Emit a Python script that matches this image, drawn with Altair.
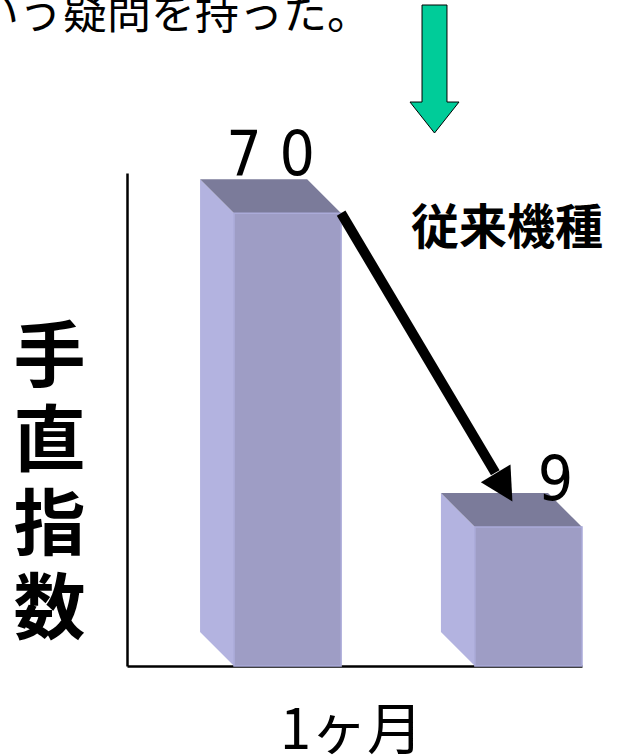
import math
import altair as alt
import pandas as pd

# ---- data ----
series = ["bar1", "bar2"]
values = [70, 9]
y_title = "手直指数"
x_title = "1ヶ月"
note_text = "従来機種"
top_text = "いう疑問を持った。"

# ---- layout constants ----
PLOT_W, PLOT_H = 455, 493
X_DOMAIN = (0.0, 4.25)
Y_DOMAIN = (-18.0, 77.8)
BAR_W = 1.0
FIRST, STEP = 1.0, 2.25
DEPTH_PX = 34
px_x = PLOT_W / (X_DOMAIN[1] - X_DOMAIN[0])
px_y = PLOT_H / (Y_DOMAIN[1] - Y_DOMAIN[0])
DX = DEPTH_PX / px_x
DY = DEPTH_PX / px_y
BASE = Y_DOMAIN[0]

FRONT = "#9E9DC5"
SIDE = "#B3B3E0"
TOP = "#7B7B9A"
EDGE = "#ABABD9"
JP = "Noto Sans CJK JP"

x0 = [FIRST + i * STEP for i in range(len(values))]

front_df = pd.DataFrame({"key": series, "value": values,
                         "xa": x0, "xb": [a + BAR_W for a in x0],
                         "base": [BASE] * len(values)})
side_rows, top_rows = [], []
for k, a, v in zip(series, x0, values):
    side_rows += [{"key": k, "x": a - DX, "top": v + DY, "bot": BASE + DY},
                  {"key": k, "x": a, "top": v, "bot": BASE}]
    top_rows += [{"key": k, "y": v + DY, "xa": a - DX, "xb": a - DX + BAR_W},
                 {"key": k, "y": v, "xa": a, "xb": a + BAR_W}]
side_df = pd.DataFrame(side_rows)
top_df = pd.DataFrame(top_rows)

label_df = pd.DataFrame({"key": series, "value": values,
                         "lx": [a - DX / 2 + BAR_W / 2 for a in x0],
                         "ly": [v + DY for v in values],
                         "label": [" ".join(str(v)) for v in values]})

# black arrow from top of first bar to top of second bar
sx, sy = x0[0] + BAR_W, values[0]
tx, ty = x0[1] + 0.35 * BAR_W, values[1] + 0.75 * DY
frac = 0.9
arrow_df = pd.DataFrame({"x": [sx, sx + frac * (tx - sx)],
                         "y": [sy, sy + frac * (ty - sy)], "o": [0, 1]})
head_df = pd.DataFrame({"x": [tx], "y": [ty]})
ang_ccw = math.degrees(math.atan2((tx - sx) * px_x, -(ty - sy) * px_y))
head_angle = (360 - ang_ccw) % 360

xs = alt.Scale(domain=list(X_DOMAIN), nice=False, zero=False)
ys = alt.Scale(domain=list(Y_DOMAIN), nice=False, zero=False)

x_axis = alt.Axis(title=x_title, domain=True, domainColor="black", domainWidth=2.5,
                  ticks=False, labels=False, grid=False,
                  titleFont=JP, titleFontSize=56, titleFontWeight="normal",
                  titleColor="black", titleX=224, titleY=82,
                  titleAlign="center", titleBaseline="alphabetic")
y_axis = alt.Axis(title=list(y_title), domain=True, domainColor="black", domainWidth=2.5,
                  ticks=False, labels=False, grid=False,
                  titleFont=JP, titleFontSize=72, titleFontWeight="bold",
                  titleColor="black", titleAngle=0, titleLineHeight=84,
                  titleX=-78, titleY=150, titleAlign="center", titleBaseline="top")

side = alt.Chart(side_df).mark_area(color=SIDE, opacity=1).encode(
    x=alt.X("x:Q", scale=xs, axis=x_axis),
    y=alt.Y("top:Q", scale=ys, axis=y_axis),
    y2="bot:Q",
    detail="key:N",
)
top = alt.Chart(top_df).mark_area(color=TOP, opacity=1, orient="horizontal").encode(
    y=alt.Y("y:Q", scale=ys, axis=y_axis),
    x=alt.X("xa:Q", scale=xs, axis=x_axis),
    x2="xb:Q",
    detail="key:N",
)
front = alt.Chart(front_df).mark_rect(color=FRONT, stroke=EDGE, strokeWidth=1.5).encode(
    x=alt.X("xa:Q", scale=xs, axis=x_axis),
    x2="xb:Q",
    y=alt.Y("value:Q", scale=ys, axis=y_axis),
    y2="base:Q",
)
arrow = alt.Chart(arrow_df).mark_line(color="black", strokeWidth=10, strokeCap="butt").encode(
    x=alt.X("x:Q", scale=xs, axis=x_axis),
    y=alt.Y("y:Q", scale=ys, axis=y_axis),
    order="o:O",
)
head = alt.Chart(head_df).mark_point(
    shape="M0,0 L-1.05,-2 L1.05,-2 Z", size=1076, filled=True, color="black",
    opacity=1, strokeWidth=0, angle=head_angle).encode(
    x=alt.X("x:Q", scale=xs, axis=x_axis),
    y=alt.Y("y:Q", scale=ys, axis=y_axis),
)
label_font = "Liberation Sans Narrow, DejaVu Sans Condensed, Liberation Sans"
lab1 = alt.Chart(label_df).transform_filter(alt.datum.key == series[0]).mark_text(
    font=label_font, fontSize=62, color="black", baseline="alphabetic", dy=-4).encode(
    x=alt.X("lx:Q", scale=xs, axis=x_axis),
    y=alt.Y("ly:Q", scale=ys, axis=y_axis),
    text="label:N",
)
lab2 = alt.Chart(label_df).transform_filter(alt.datum.key == series[1]).mark_text(
    font=label_font, fontSize=62, color="black", baseline="alphabetic", dx=44, dy=7).encode(
    x=alt.X("lx:Q", scale=xs, axis=x_axis),
    y=alt.Y("ly:Q", scale=ys, axis=y_axis),
    text="label:N",
)
note = alt.Chart(pd.DataFrame({"t": [note_text]})).mark_text(
    font=JP, fontSize=48, fontWeight="bold", color="black", baseline="middle",
    align="center").encode(text="t:N", x=alt.value(380), y=alt.value(57))
header = alt.Chart(pd.DataFrame({"t": [top_text]})).mark_text(
    font=JP, fontSize=44, fontWeight="normal", color="black", baseline="middle",
    align="left").encode(text="t:N", x=alt.value(-152), y=alt.value(-157))
green = alt.Chart(pd.DataFrame({"k": [0]})).mark_point(
    shape="M-0.195,-1 L0.195,-1 L0.195,0.516 L0.383,0.516 L0,1 L-0.383,0.516 L-0.195,0.516 Z",
    size=16384, filled=True, fill="#00CC99", stroke="black", strokeWidth=1, opacity=1).encode(
    x=alt.value(307.5), y=alt.value(-104))

chart = alt.layer(side, top, front, arrow, head, lab1, lab2, note, header, green).properties(
    width=PLOT_W, height=PLOT_H,
    autosize=alt.AutoSizeParams(type="none"),
    padding={"left": 127, "top": 173, "right": 629 - 127 - PLOT_W, "bottom": 755 - 173 - PLOT_H},
    background="white",
).configure_view(stroke=None)

chart.save("out.html", embed_options={"renderer": "svg", "actions": False})
